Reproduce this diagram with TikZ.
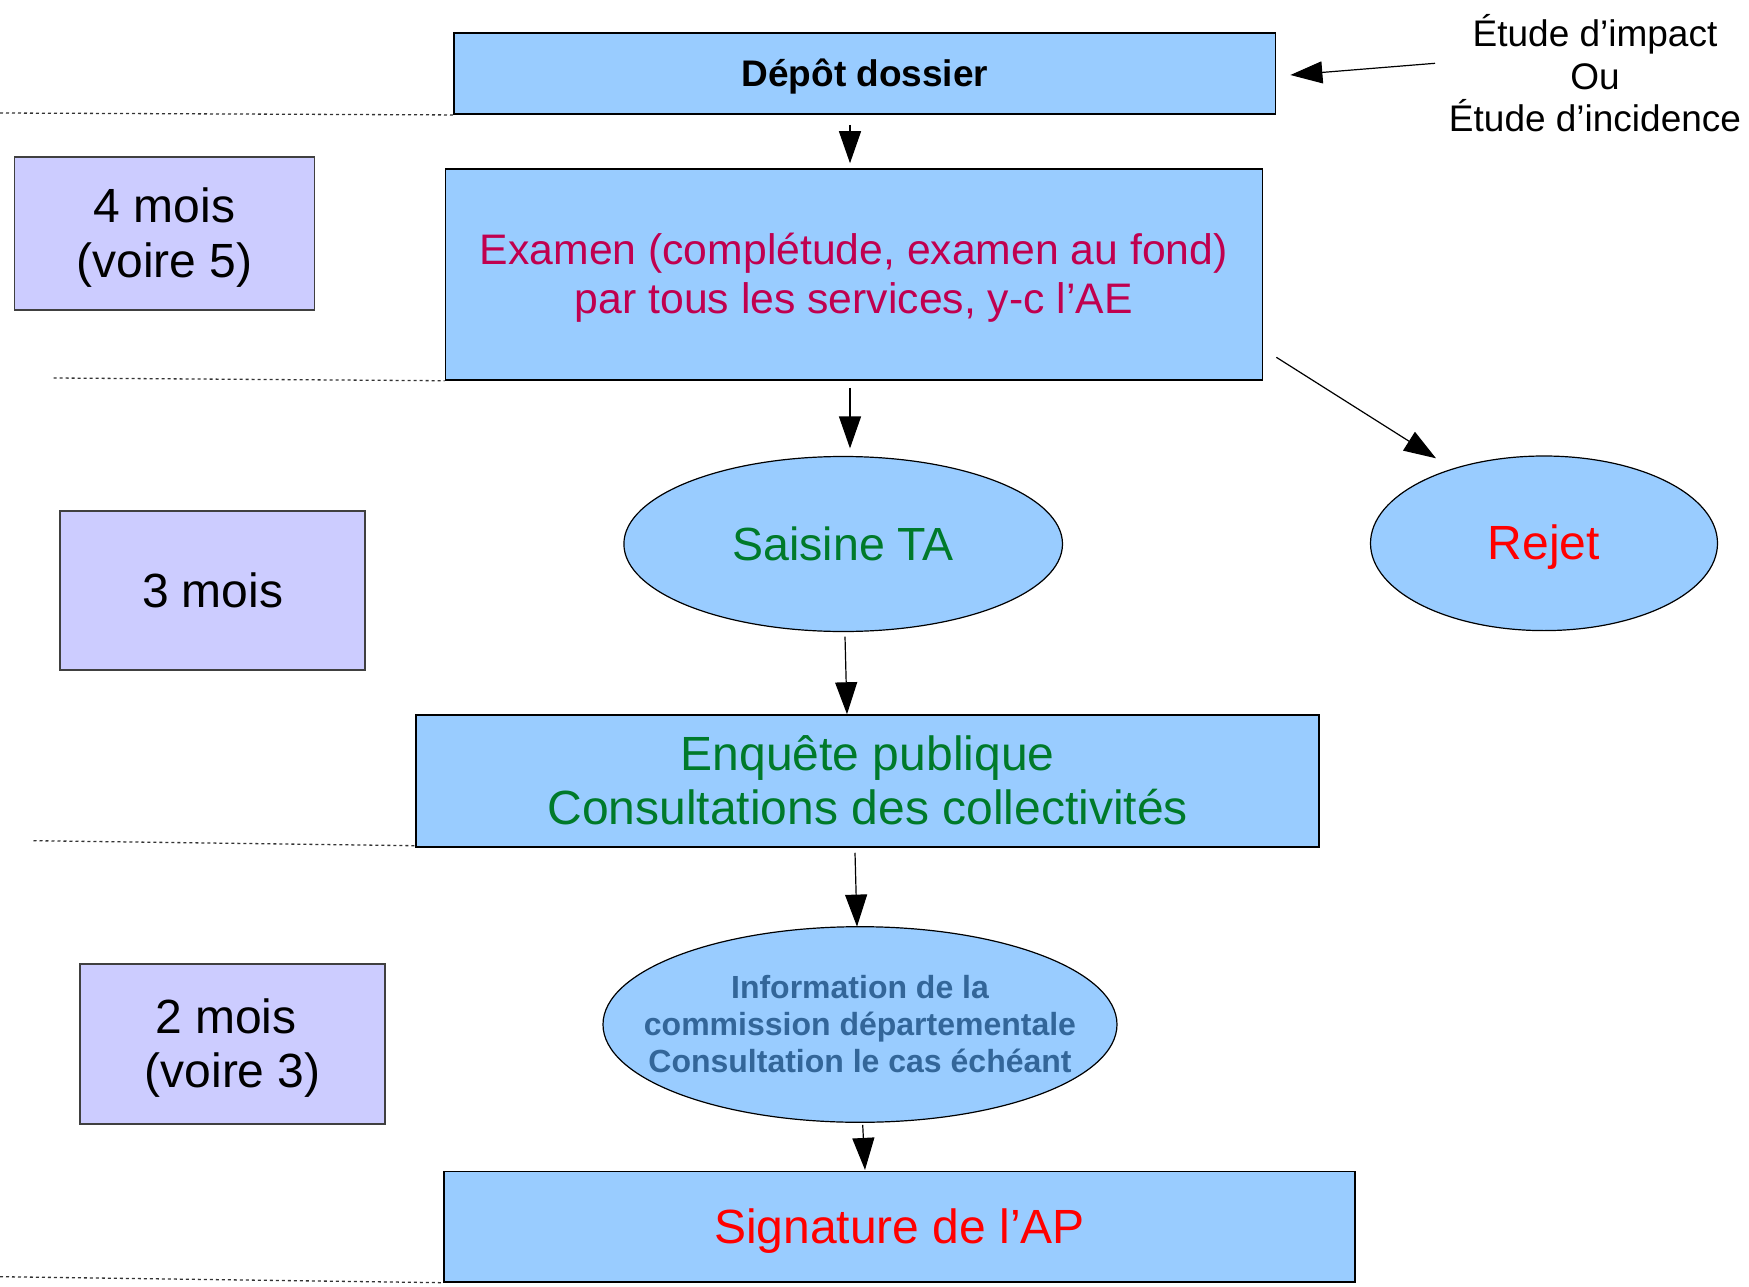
\documentclass[tikz,border=0pt]{standalone}
\usepackage{fontspec}
\setmainfont{Liberation Sans}
\usetikzlibrary{shapes.geometric,arrows.meta,calc}
\definecolor{boxblue}{HTML}{99CCFF}
\definecolor{lav}{HTML}{CCCCFF}
\definecolor{crim}{HTML}{C0004F}
\definecolor{dgreen}{HTML}{007A2A}
\definecolor{sblue}{HTML}{336699}
\definecolor{myred}{HTML}{FF0000}
\newcommand\lostrut{\vrule width 0pt height 0.905em depth 0.212em\relax}
\begin{document}
\begin{tikzpicture}[x=1pt,y=-1pt,
  bluebox/.style={draw=black,line width=1.5pt,fill=boxblue,rectangle,inner sep=0pt,align=center},
  lavbox/.style={draw=black!75,line width=1.5pt,fill=lav,rectangle,inner sep=0pt,align=center,font=\fontsize{48}{53.5}\selectfont},
  oval/.style={draw=black,line width=1.2pt,fill=boxblue,ellipse,inner sep=0pt,align=center},
  arr/.style={line width=1.2pt,-{Triangle[length=32pt,width=22pt]}},
  dotline/.style={line width=1.3pt,black!80,dash pattern=on 3pt off 3pt}]
\useasboundingbox (0,0) rectangle (1749,1287);

\node[bluebox,minimum width=821.5pt,minimum height=81pt,font=\bfseries\fontsize{37}{42}\selectfont] (depot) at (864.9,73.7) {\lostrut Dépôt dossier};
\node[bluebox,minimum width=817pt,minimum height=211pt,text=crim,font=\fontsize{42.7}{47.5}\selectfont] (examen) at (853.8,274.5) {\lostrut Examen (complétude, examen au fond)\\par tous les services, y-c l’AE\lostrut};
\node[lavbox,minimum width=300pt,minimum height=153pt] (m4) at (164.6,233.3) {\lostrut 4 mois\\(voire 5)\lostrut};
\node[lavbox,minimum width=305pt,minimum height=159pt] (m3) at (212.7,590.4) {\lostrut 3 mois};
\node[lavbox,minimum width=305pt,minimum height=160pt] (m2) at (232.7,1044) {\lostrut 2 mois\hspace*{0.278em}\\(voire 3)\lostrut};
\node[oval,minimum width=438.6pt,minimum height=175pt,text=dgreen,font=\fontsize{46.5}{52}\selectfont] (saisine) at (843.2,544) {\lostrut Saisine TA};
\node[oval,minimum width=347pt,minimum height=174.6pt,text=myred,font=\fontsize{48}{54}\selectfont] (rejet) at (1544,543.3) {\lostrut Rejet};
\node[bluebox,minimum width=903pt,minimum height=132pt,text=dgreen,font=\fontsize{48}{53.5}\selectfont] (enquete) at (867.7,781) {\lostrut Enquête publique\\Consultations des collectivités\lostrut};
\node[oval,inner xsep=-45pt,minimum width=514pt,minimum height=195.6pt,text=sblue,font=\bfseries\fontsize{32}{36.8}\selectfont] (info) at (860,1024.5) {\lostrut Information de la\\commission départementale\\Consultation le cas échéant\lostrut};
\node[bluebox,minimum width=911pt,minimum height=110.3pt,text=myred,font=\fontsize{48}{54}\selectfont] (signature) at (899.5,1226.8) {\lostrut Signature de l’AP};
\node[align=center,inner sep=0pt,font=\fontsize{37}{42.4}\selectfont] (etude) at (1595,73.3) {Étude d’impact\\Ou\\Étude d’incidence};

\coordinate (etA) at (1435,63.3);
\draw[arr] (etA) -- ($(depot.east)+(14,1.3)$);
\draw[arr] ($(depot.south)+(-14.9,10)$) -- ($(examen.north)+(-3.8,-5)$);
\draw[arr] ($(examen.south)+(-3.8,7)$) -- ($(saisine.north)+(6.8,-7.5)$);
\draw[arr] ($(saisine.south)+(1.8,4.5)$) -- ($(enquete.north)+(-20.7,0)$);
\draw[arr] ($(enquete.south)+(-12.7,5)$) -- ($(info.north)+(-3,0.5)$);
\draw[arr] ($(info.south)+(2.7,2)$) -- ($(signature.north)+(-34.5,-1)$);
\draw[arr] ($(examen.east)+(13.3,82.8)$) -- ($(rejet.center)+(-108,-85)$);

\coordinate (d1) at (0,113);
\draw[dotline] (d1) -- (depot.south west);
\coordinate (d2) at (53.6,378);
\draw[dotline] (d2) -- (examen.south west);
\coordinate (d3) at (33.5,840.7);
\draw[dotline] (d3) -- ($(enquete.south west)+(2,-2)$);
\coordinate (d4) at (0,1276.7);
\draw[dotline] (d4) -- (signature.south west);
\end{tikzpicture}
\end{document}
